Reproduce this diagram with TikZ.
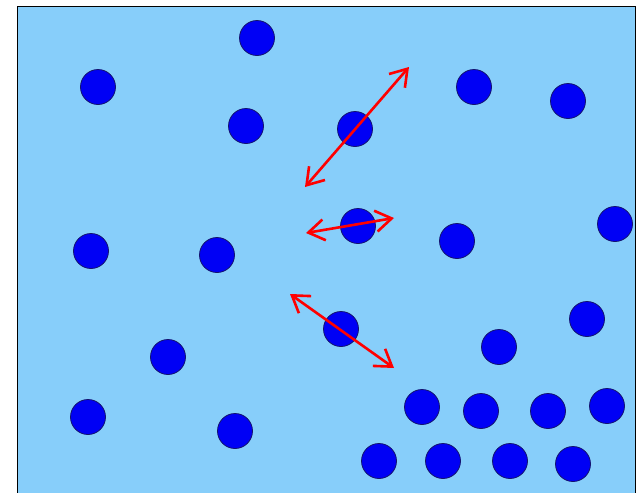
\documentclass[tikz,border=0pt]{standalone}
\usetikzlibrary{arrows.meta}
\definecolor{bgblue}{RGB}{135,206,250}
\definecolor{ballblue}{RGB}{0,0,245}
\definecolor{balledge}{RGB}{20,20,110}
\tikzset{
  ball/.style={circle,fill=ballblue,draw=balledge,line width=0.8pt,minimum size=35pt,inner sep=0pt},
  dbl/.style={red,line width=2.6pt,{Straight Barb[length=16pt,width=21pt]}-{Straight Barb[length=16pt,width=21pt]}}
}
\begin{document}
\begin{tikzpicture}[x=1pt,y=-1pt]
\useasboundingbox (0,0) rectangle (641,493);
\clip (0,0) rectangle (641,493);
\draw[fill=bgblue,draw=black,line width=1.3pt] (17.5,6.5) rectangle (635.5,500);
\node[ball] (b1) at (257,38) {};
\node[ball] (b2) at (98,87) {};
\node[ball] (b3) at (246,126) {};
\node[ball] (b4) at (355,129) {};
\node[ball] (b5) at (474,87) {};
\node[ball] (b6) at (568,101) {};
\node[ball] (b7) at (91,251) {};
\node[ball] (b8) at (217,255) {};
\node[ball] (b9) at (358,226) {};
\node[ball] (b10) at (457,241) {};
\node[ball] (b11) at (615,224) {};
\node[ball] (b12) at (168,357) {};
\node[ball] (b13) at (341,329) {};
\node[ball] (b14) at (499,347) {};
\node[ball] (b15) at (587,319) {};
\node[ball] (b16) at (88,417) {};
\node[ball] (b17) at (235,431) {};
\node[ball] (b18) at (422,407) {};
\node[ball] (b19) at (481,411) {};
\node[ball] (b20) at (548,411) {};
\node[ball] (b21) at (607,406) {};
\node[ball] (b22) at (379,461) {};
\node[ball] (b23) at (443,461) {};
\node[ball] (b24) at (510,461) {};
\node[ball] (b25) at (573,464) {};
\coordinate (a1s) at (305,187);
\coordinate (a1e) at (409,67);
\coordinate (a2s) at (306,233);
\coordinate (a2e) at (394,218);
\coordinate (a3s) at (290,294);
\coordinate (a3e) at (394,368);
\draw[dbl] (a1s) -- (a1e);
\draw[dbl] (a2s) -- (a2e);
\draw[dbl] (a3s) -- (a3e);
\end{tikzpicture}
\end{document}
